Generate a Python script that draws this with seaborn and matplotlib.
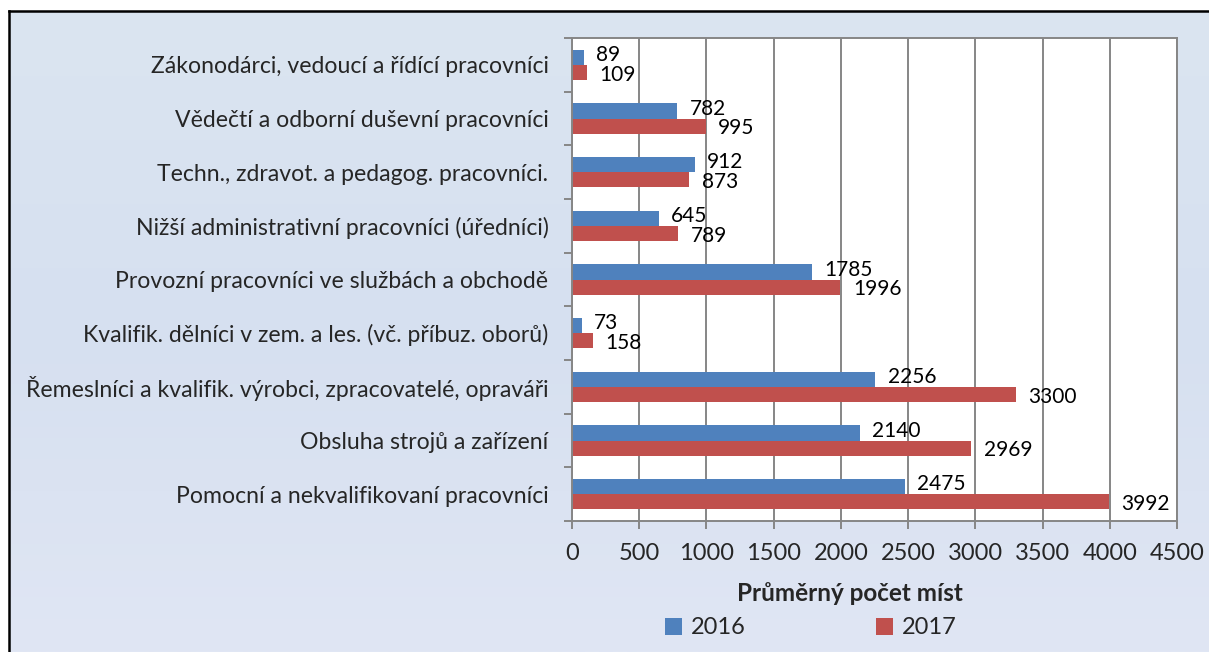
import matplotlib
matplotlib.use("Agg")
import matplotlib.pyplot as plt
import seaborn as sns
import numpy as np
import pandas as pd
from matplotlib.colors import LinearSegmentedColormap

categories = [
    "Zákonodárci, vedoucí a řídící pracovníci",
    "Vědečtí a odborní duševní pracovníci",
    "Techn., zdravot. a pedagog. pracovníci.",
    "Nižší administrativní pracovníci (úředníci)",
    "Provozní pracovníci ve službách a obchodě",
    "Kvalifik. dělníci v zem. a les. (vč. příbuz. oborů)",
    "Řemeslníci a kvalifik. výrobci, zpracovatelé, opraváři",
    "Obsluha strojů a zařízení",
    "Pomocní a nekvalifikovaní pracovníci",
]
values_2016 = [89, 782, 912, 645, 1785, 73, 2256, 2140, 2475]
values_2017 = [109, 995, 873, 789, 1996, 158, 3300, 2969, 3992]
years = ["2016", "2017"]
x_ticks = [0, 500, 1000, 1500, 2000, 2500, 3000, 3500, 4000, 4500]

df = pd.DataFrame({
    "cat": categories * 2,
    "val": values_2016 + values_2017,
    "year": [years[0]] * len(categories) + [years[1]] * len(categories),
})

sns.set_theme(style="white")
plt.rcParams['font.family'] = ['Lato', 'DejaVu Sans']

W, H = 1209, 652
fig = plt.figure(figsize=(W / 100, H / 100), dpi=100)
fig.patch.set_facecolor("white")

# background gradient with border
bg = fig.add_axes([9 / W, 0, 1 - 9 / W, 1 - 11 / H])
grad = np.linspace(0, 1, 256).reshape(-1, 1)
cmap = LinearSegmentedColormap.from_list("bg", ["#dbe5f1", "#d6e0f0", "#e0e6f4"])
bg.imshow(grad, aspect="auto", cmap=cmap, extent=[0, 1, 0, 1], origin="upper")
bg.set_xticks([]); bg.set_yticks([])
for s in ["left", "top"]:
    bg.spines[s].set_color("black"); bg.spines[s].set_linewidth(1.8)
for s in ["right", "bottom"]:
    bg.spines[s].set_visible(False)
bg.set_zorder(0)

ax = fig.add_axes([572 / W, 1 - 521 / H, (1177 - 572) / W, (521 - 38) / H])
ax.set_zorder(1)
ax.set_facecolor("white")

palette = {"2016": "#4f81bd", "2017": "#c0504d"}
sns.barplot(data=df, y="cat", x="val", hue="year", order=categories,
            hue_order=years, palette=palette, width=0.57, orient="h",
            saturation=1, ax=ax, legend=True, edgecolor="none")

for i, cont in enumerate(ax.containers):
    texts = ax.bar_label(cont, padding=9, fontsize=15, color="black")
    dy = 1.5 if i == 0 else -1.5
    for t in texts:
        t.set_y(t.get_position()[1])
        t.xyann = (t.xyann[0], dy)

ax.set_xlim(0, 4500)
ax.set_ylim(len(categories) - 0.5, -0.5)
ax.set_xticks(x_ticks)
ax.set_xticklabels([str(t) for t in x_ticks], fontsize=17)
ax.xaxis.grid(True, color="#868686", linewidth=1.4)
ax.set_axisbelow(True)
ax.tick_params(axis="x", which="major", direction="out", length=6, width=1.4,
               color="#868686", pad=10, bottom=True)
ax.set_yticks(range(len(categories)))
ax.set_yticklabels(categories, fontsize=16.6)
ax.tick_params(axis="y", which="major", length=0, pad=17)
ax.set_yticks(np.arange(-0.5, len(categories), 1), minor=True)
ax.tick_params(axis="y", which="minor", direction="out", length=6, width=1.4,
               color="#868686", left=True)
for s in ax.spines.values():
    s.set_color("#868686"); s.set_linewidth(1.4)
ax.set_ylabel("")
ax.set_xlabel("Průměrný počet míst", fontsize=17.5, fontweight="bold")
ax.xaxis.set_label_coords((850 - 572) / 605, (521 - 582) / 483)

leg = ax.legend(loc="center", bbox_to_anchor=((811 - 572) / 605, (521 - 628) / 483),
                ncol=2, frameon=False, fontsize=17, handlelength=0.7,
                handleheight=0.7, columnspacing=5.5, handletextpad=0.4)

fig.savefig("out.png", dpi=100)
